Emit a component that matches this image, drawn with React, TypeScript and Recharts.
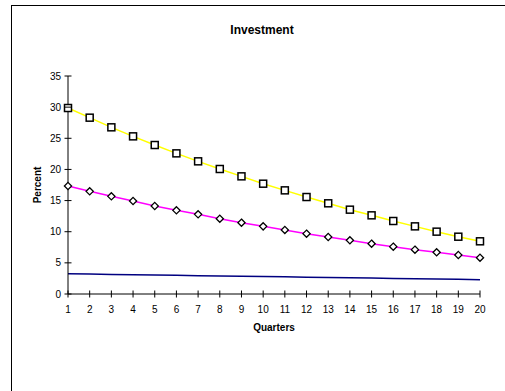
import React from "react";
import { LineChart, Line, XAxis, YAxis, Label } from "recharts";

const quarters = [1, 2, 3, 4, 5, 6, 7, 8, 9, 10, 11, 12, 13, 14, 15, 16, 17, 18, 19, 20];
const yellowSeries = [
  29.86, 28.31, 26.76, 25.31, 23.92, 22.58, 21.3, 20.07, 18.89, 17.71,
  16.64, 15.57, 14.56, 13.54, 12.63, 11.72, 10.86, 10.01, 9.2, 8.46,
];
const magentaSeries = [
  17.34, 16.48, 15.68, 14.93, 14.13, 13.43, 12.79, 12.09, 11.45, 10.86,
  10.28, 9.69, 9.15, 8.62, 8.08, 7.6, 7.12, 6.69, 6.26, 5.83,
];
const navySeries = [
  3.26, 3.2, 3.15, 3.1, 3.05, 3.0, 2.95, 2.9, 2.85, 2.8,
  2.75, 2.7, 2.65, 2.6, 2.55, 2.5, 2.45, 2.4, 2.35, 2.3,
];
const yTicks = [0, 5, 10, 15, 20, 25, 30, 35];

const data = quarters.map((q, i) => ({
  q,
  a: yellowSeries[i],
  b: magentaSeries[i],
  c: navySeries[i],
}));

const FONT = "'Liberation Sans', Arial, sans-serif";

const SquareDot = (props: any) => {
  const { cx, cy } = props;
  if (cx == null || cy == null) return null;
  return (
    <rect x={cx - 3.5} y={cy - 3.5} width={7} height={7} fill="#fff" stroke="#000" strokeWidth={1.5} />
  );
};

const DiamondDot = (props: any) => {
  const { cx, cy } = props;
  if (cx == null || cy == null) return null;
  const r = 3.6;
  return (
    <polygon
      points={`${cx},${cy - r} ${cx + r},${cy} ${cx},${cy + r} ${cx - r},${cy}`}
      fill="#fff"
      stroke="#000"
      strokeWidth={1.3}
    />
  );
};

const XTick = (props: any) => {
  const { x, y, payload } = props;
  return (
    <g>
      <line x1={x} x2={x} y1={y - 3.5} y2={y + 3.5} stroke="#000" />
      <text x={x} y={y + 19} textAnchor="middle" fontSize={10} fontFamily={FONT} fill="#000">
        {payload.value}
      </text>
    </g>
  );
};

const YTick = (props: any) => {
  const { x, y, payload } = props;
  return (
    <g>
      <line x1={x - 3.5} x2={x + 3.5} y1={y} y2={y} stroke="#000" />
      <text x={x - 7} y={y + 3.5} textAnchor="end" fontSize={10} fontFamily={FONT} fill="#000">
        {payload.value}
      </text>
    </g>
  );
};

export default function App() {
  return (
    <div
      style={{
        position: "absolute",
        left: 0,
        top: 0,
        width: 505,
        height: 391,
        overflow: "hidden",
        background: "#fff",
      }}
    >
      <div
        style={{
          position: "absolute",
          left: 11,
          top: 5,
          width: 520,
          height: 420,
          borderLeft: "1px solid #000",
          borderTop: "1px solid #000",
        }}
      />
      <div
        style={{
          position: "absolute",
          left: 0,
          width: 524,
          top: 23,
          textAlign: "center",
          fontFamily: FONT,
          fontWeight: "bold",
          fontSize: 12,
        }}
      >
        Investment
      </div>
      <div style={{ position: "absolute", left: 0, top: 0 }}>
        <LineChart
          width={505}
          height={391}
          data={data}
          margin={{ top: 76, right: 25, left: 38, bottom: 67 }}
        >
          <XAxis
            dataKey="q"
            height={30}
            axisLine={{ stroke: "#000" }}
            tickLine={false}
            tickSize={0}
            tickMargin={0}
            tick={<XTick />}
            interval={0}
          >
            <Label
              value="Quarters"
              position="bottom"
              offset={0}
              style={{ fontFamily: FONT, fontWeight: "bold", fontSize: 10, fill: "#000" }}
            />
          </XAxis>
          <YAxis
            width={30}
            domain={[0, 35]}
            ticks={yTicks}
            axisLine={{ stroke: "#000" }}
            tickLine={false}
            tickSize={0}
            tickMargin={0}
            tick={<YTick />}
            interval={0}
          >
            <Label
              value="Percent"
              angle={-90}
              position="insideLeft"
              offset={-1}
              style={{ fontFamily: FONT, fontWeight: "bold", fontSize: 10, fill: "#000", textAnchor: "middle" }}
            />
          </YAxis>
          <Line
            dataKey="c"
            stroke="#000080"
            strokeWidth={1.5}
            dot={false}
            isAnimationActive={false}
          />
          <Line
            dataKey="b"
            stroke="#FF00FF"
            strokeWidth={1.5}
            dot={<DiamondDot />}
            isAnimationActive={false}
          />
          <Line
            dataKey="a"
            stroke="#FFFF00"
            strokeWidth={1.5}
            dot={<SquareDot />}
            isAnimationActive={false}
          />
        </LineChart>
      </div>
    </div>
  );
}
